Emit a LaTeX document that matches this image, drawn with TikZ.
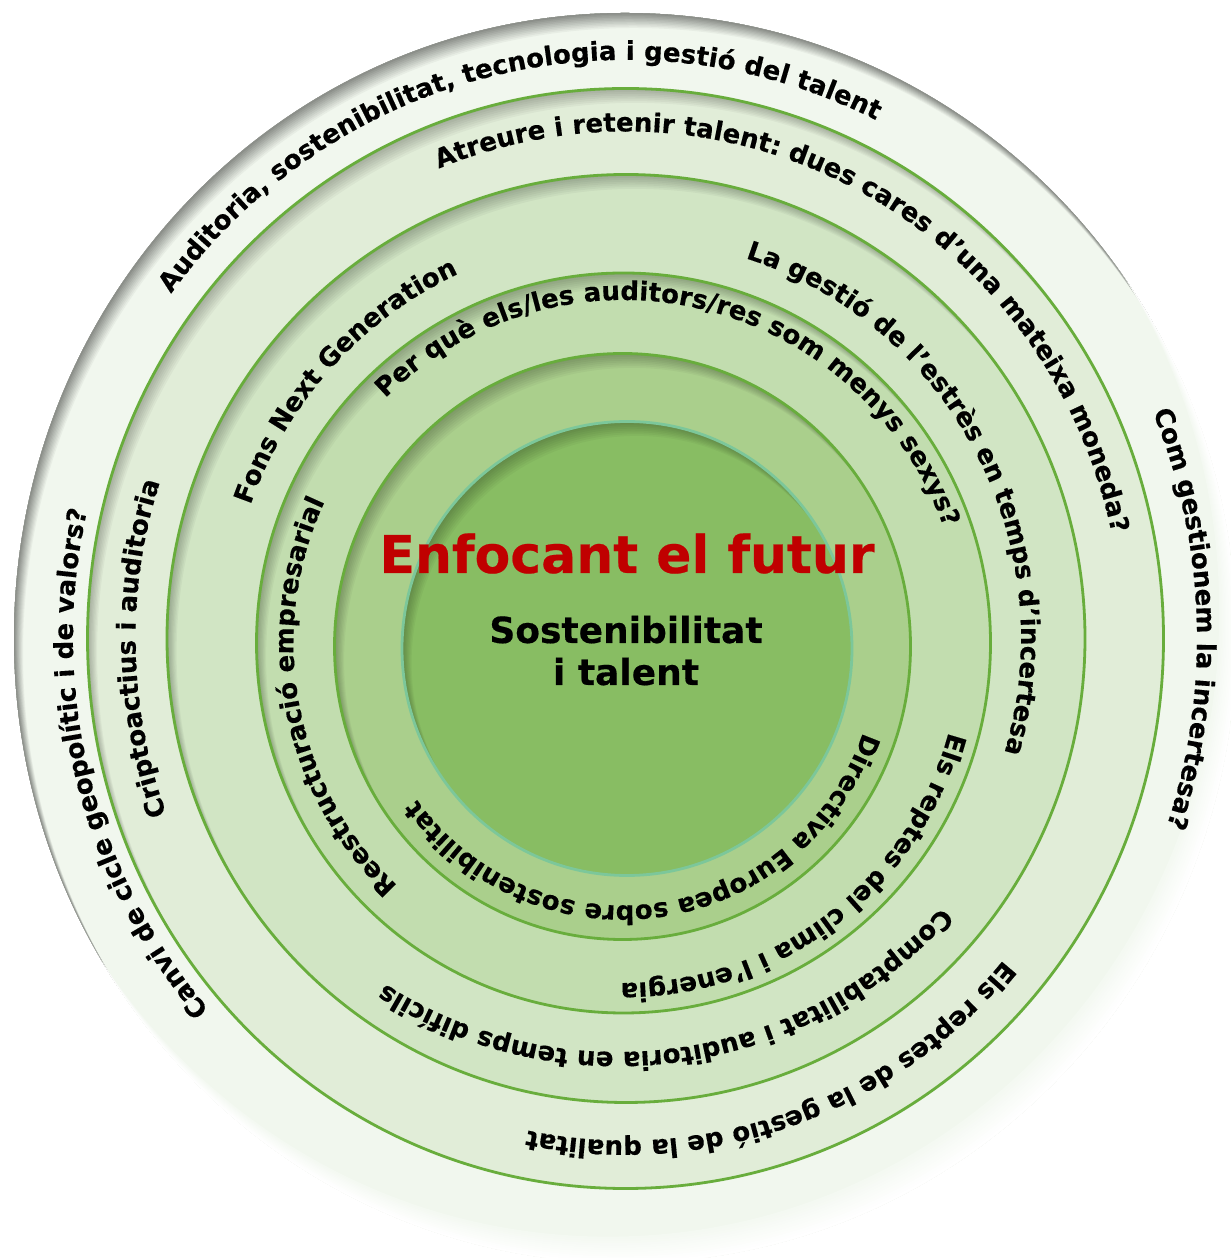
\documentclass[tikz,border=0pt]{standalone}
\usepackage{fontspec}
\setmainfont{DejaVu Sans}[BoldFeatures={FakeBold=0.4}]
\usetikzlibrary{decorations.text}

\definecolor{bandA}{HTML}{F1F7EE}
\definecolor{bandB}{HTML}{E1EDD8}
\definecolor{bandC}{HTML}{D1E5C4}
\definecolor{bandD}{HTML}{C2DDAF}
\definecolor{bandE}{HTML}{AACF8C}
\definecolor{bandF}{HTML}{88BD63}
\definecolor{ringgreen}{HTML}{68AD3C}
\definecolor{coreline}{HTML}{7CC79A}
\definecolor{titlered}{HTML}{C00000}

\newcommand\ringfont{\bfseries\fontsize{26}{26}\selectfont}

\begin{document}
\begin{tikzpicture}[x=1pt,y=1pt,
  ringline/.style={draw=#1, line width=2.8pt},
  ringtext/.style={decorate, decoration={text along path, text align=center, text={|\ringfont|#1}}},
  centretext/.style={anchor=base, inner sep=0pt, font=\bfseries\fontsize{#1}{#1}\selectfont}]
\fill[white] (0,0) rectangle (1231,1258);
\useasboundingbox (0,0) rectangle (1231,1258);

% centres of the rings
\coordinate (o0) at (625,620);
\coordinate (o1) at (625.5,619.5);
\coordinate (o2) at (626,619.5);
\coordinate (o3) at (623.5,615);
\coordinate (o4) at (622.5,611.5);
\coordinate (o5) at (627,609.5);
\coordinate (t2) at (618,643);

% outer disc: shadow at the top left, fading to white at the bottom right
\fill[bandA] (o0) ellipse [x radius=611, y radius=625];
\begin{scope}
  \clip (o0) ellipse [x radius=611, y radius=625];
  \foreach \k [evaluate=\k as \p using {4.2*(11-\k)}] in {10,9,...,1}
    \draw[black!\p!bandA, line width=40] ([xshift={0.9*\k}, yshift={-1.5*\k}]o0) ellipse [x radius=631, y radius=645];
  \foreach \k [evaluate=\k as \p using {100-7*(\k-1)}] in {12,11,...,1}
    \draw[white!\p!bandA, line width=80] ([xshift={-1.4*\k}, yshift={2.2*\k}]o0) ellipse [x radius=651, y radius=665];
\end{scope}

% inner discs
\foreach \c/\rx/\ry/\col/\edge in {o1/538/550/bandB/ringgreen, o2/459/464/bandC/ringgreen,
    o3/367/370/bandD/ringgreen, o4/288/293/bandE/ringgreen, o5/225/227/bandF/coreline}{
  \fill[\col] (\c) ellipse [x radius=\rx, y radius=\ry];
  \begin{scope}
    \clip (\c) ellipse [x radius=\rx, y radius=\ry];
    \foreach \k in {1,...,8}
      \draw[black, opacity=0.035, line width=40] ([xshift={1.2*\k}, yshift={-1.8*\k}]\c) ellipse [x radius=\rx+20, y radius=\ry+20];
  \end{scope}
  \draw[ringline=\edge] (\c) ellipse [x radius=\rx, y radius=\ry];
}

%Text
\path[ringtext={Auditoria, sostenibilitat, tecnologia i gestió del talent}]
  ([shift={(o0)}]193.4:565 and 578) arc[start angle=193.4, end angle=13.4, x radius=565, y radius=578];
\path[ringtext={Com gestionem la incertesa?}]
  ([shift={(o0)}]92:572 and 585) arc[start angle=92, end angle=-88, x radius=572, y radius=585];
\path[ringtext={Canvi de cicle geopolític i de valors?}]
  ([shift={(o0)}]284.3:552 and 565) arc[start angle=284.3, end angle=104.3, x radius=552, y radius=565];

\path[ringtext={Atreure i retenir talent: dues cares d’una mateixa moneda?}]
  ([shift={(o1)}]152.2:497 and 507) arc[start angle=152.2, end angle=-27.8, x radius=497, y radius=507];
\path[ringtext={Els reptes de la gestió de la qualitat}]
  ([shift={(o1)}]19.1:492 and 502) arc[start angle=19.1, end angle=-160.9, x radius=492, y radius=502];
\path[ringtext={Criptoactius i auditoria}]
  ([shift={(o1)}]271.2:490 and 500) arc[start angle=271.2, end angle=91.2, x radius=490, y radius=500];

\path[ringtext={La gestió de l’estrès en temps d’incertesa}]
  ([shift={(o2)}]118:395 and 399) arc[start angle=118, end angle=-62, x radius=395, y radius=399];
\path[ringtext={Comptabilitat i auditoria en temps difícils}]
  ([shift={(t2)}]7.8:435 and 437) arc[start angle=7.8, end angle=-172.2, x radius=435, y radius=437];
\path[ringtext={Fons Next Generation}]
  ([shift={(o2)}]227.5:398 and 402) arc[start angle=227.5, end angle=47.5, x radius=398, y radius=402];

\path[ringtext={Per què els/les auditors/res som menys sexys?}]
  ([shift={(o3)}]167.1:340 and 343) arc[start angle=167.1, end angle=-12.9, x radius=340, y radius=343];
\path[ringtext={Els reptes del clima i l’energia}]
  ([shift={(o3)}]37:337 and 340) arc[start angle=37, end angle=-143, x radius=337, y radius=340];
\path[ringtext={Reestructuració empresarial}]
  ([shift={(o3)}]280.9:330 and 333) arc[start angle=280.9, end angle=100.9, x radius=330, y radius=333];

\path[ringtext={Directiva Europea sobre sostenibilitat}]
  ([shift={(o4)}]8.4:255 and 259) arc[start angle=8.4, end angle=-171.6, x radius=255, y radius=259];

\node[centretext=52, text=titlered] (title) at (627,685) {Enfocant el futur};
\node[centretext=36] (sub1) at (626,615) {Sostenibilitat};
\node[centretext=36] (sub2) at (626,573) {i talent};
\end{tikzpicture}
\end{document}
